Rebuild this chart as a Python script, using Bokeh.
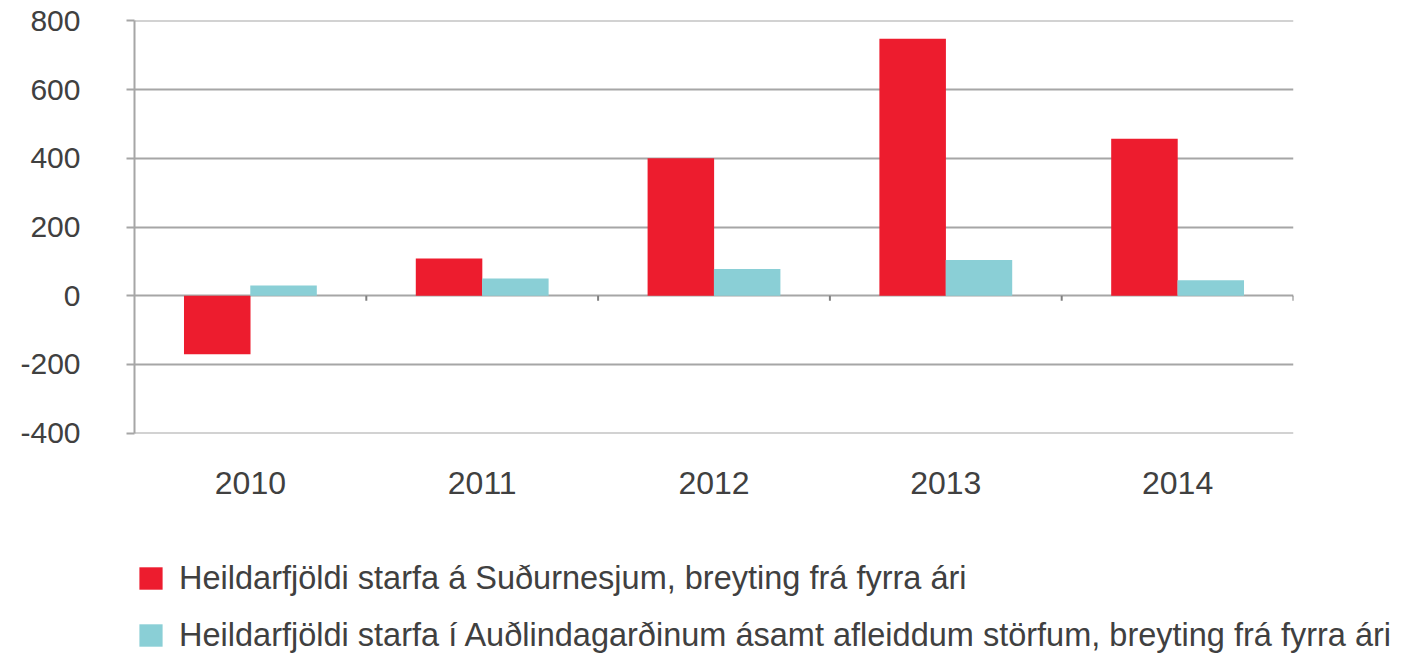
from bokeh.plotting import figure
from bokeh.layouts import column
from bokeh.models import (ColumnDataSource, FactorRange, Range1d, FixedTicker,
                          Legend, LegendItem)
from bokeh.transform import dodge
from bokeh.embed import file_html
from bokeh.resources import INLINE

years = ["2010", "2011", "2012", "2013", "2014"]
sudurnes = [-170, 108, 400, 748, 457]
audlind = [30, 50, 78, 104, 45]
label_red = "Heildarfjöldi starfa á Suðurnesjum, breyting frá fyrra ári"
label_cyan = "Heildarfjöldi starfa í Auðlindagarðinum ásamt afleiddum störfum, breyting frá fyrra ári"
y_ticks = [-400, -200, 0, 200, 400, 600, 800]
y_tick_labels = {-400: "-400", -200: "-200"}

RED = "#ED1C2E"
CYAN = "#8ACFD6"
GRID = "#A6A6A6"
TEXT = "#404040"
FONT = "Liberation Sans"

src = ColumnDataSource(dict(years=years, red=sudurnes, cyan=audlind,
                            zero=[0] * len(years), tick=[-15] * len(years)))

p = figure(width=1411, height=540, x_range=FactorRange(*years, range_padding=0),
           y_range=Range1d(-401, 801), output_backend="svg", toolbar_location=None,
           min_border_left=134, min_border_right=118, min_border_top=20,
           min_border_bottom=107)
p.outline_line_color = None

r1 = p.vbar(x=dodge("years", -0.143, range=p.x_range), top="red", bottom=0,
            width=0.287, source=src, fill_color=RED, line_color=None)
r2 = p.vbar(x=dodge("years", 0.143, range=p.x_range), top="cyan", bottom=0,
            width=0.287, source=src, fill_color=CYAN, line_color=None)

# category boundary ticks on the zero line
p.segment(x0=dodge("years", 0.5, range=p.x_range), y0="zero",
          x1=dodge("years", 0.5, range=p.x_range), y1="tick",
          source=src, line_color="#808080", line_width=2)

p.xgrid.grid_line_color = None
p.ygrid.grid_line_color = GRID
p.ygrid.grid_line_width = 2
p.ygrid.ticker = FixedTicker(ticks=y_ticks)

p.yaxis.ticker = FixedTicker(ticks=y_ticks)
p.yaxis.major_label_overrides = y_tick_labels
p.yaxis.minor_tick_line_color = None
p.yaxis.axis_line_color = GRID
p.yaxis.axis_line_width = 2
p.yaxis.major_tick_line_color = GRID
p.yaxis.major_tick_line_width = 2
p.yaxis.major_tick_out = 8
p.yaxis.major_tick_in = 0
p.yaxis.major_label_standoff = 46
p.yaxis.major_label_text_font = FONT
p.yaxis.major_label_text_font_size = "30px"
p.yaxis.major_label_text_color = TEXT

p.xaxis.axis_line_color = None
p.xaxis.major_tick_line_color = None
p.xaxis.minor_tick_line_color = None
p.xaxis.major_tick_out = 0
p.xaxis.major_label_standoff = 38
p.xaxis.major_label_text_font = FONT
p.xaxis.major_label_text_font_size = "32px"
p.xaxis.major_label_text_color = TEXT

# legend panel below the chart (swatch renderers are zero-size)
p2 = figure(width=1411, height=118, x_range=Range1d(0, 1), y_range=Range1d(0, 1),
            output_backend="svg", toolbar_location=None,
            x_axis_location=None, y_axis_location=None,
            min_border_left=0, min_border_right=0, min_border_top=0,
            min_border_bottom=0)
p2.grid.visible = False
p2.outline_line_color = None
for fig in (p, p2):
    try:
        fig.frame_align = False
    except AttributeError:
        pass

swatch = ColumnDataSource(dict(x=[0.5], y=[0.0]))
l1 = p2.vbar(x="x", top="y", bottom="y", width=0, source=swatch,
             fill_color=RED, line_color=None)
l2 = p2.vbar(x="x", top="y", bottom="y", width=0, source=swatch,
             fill_color=CYAN, line_color=None)

legend = Legend(items=[LegendItem(label=label_red, renderers=[l1]),
                       LegendItem(label=label_cyan, renderers=[l2])],
                location=(136, 4), orientation="vertical",
                margin=0, padding=0, spacing=19,
                glyph_width=29, glyph_height=28, label_height=38,
                label_standoff=14, label_text_font=FONT,
                label_text_font_size="32.5px", label_text_color=TEXT,
                border_line_color=None, background_fill_alpha=0)
p2.add_layout(legend, "center")

layout = column(p, p2, spacing=0)
open("out.html", "w").write(file_html(layout, INLINE))
